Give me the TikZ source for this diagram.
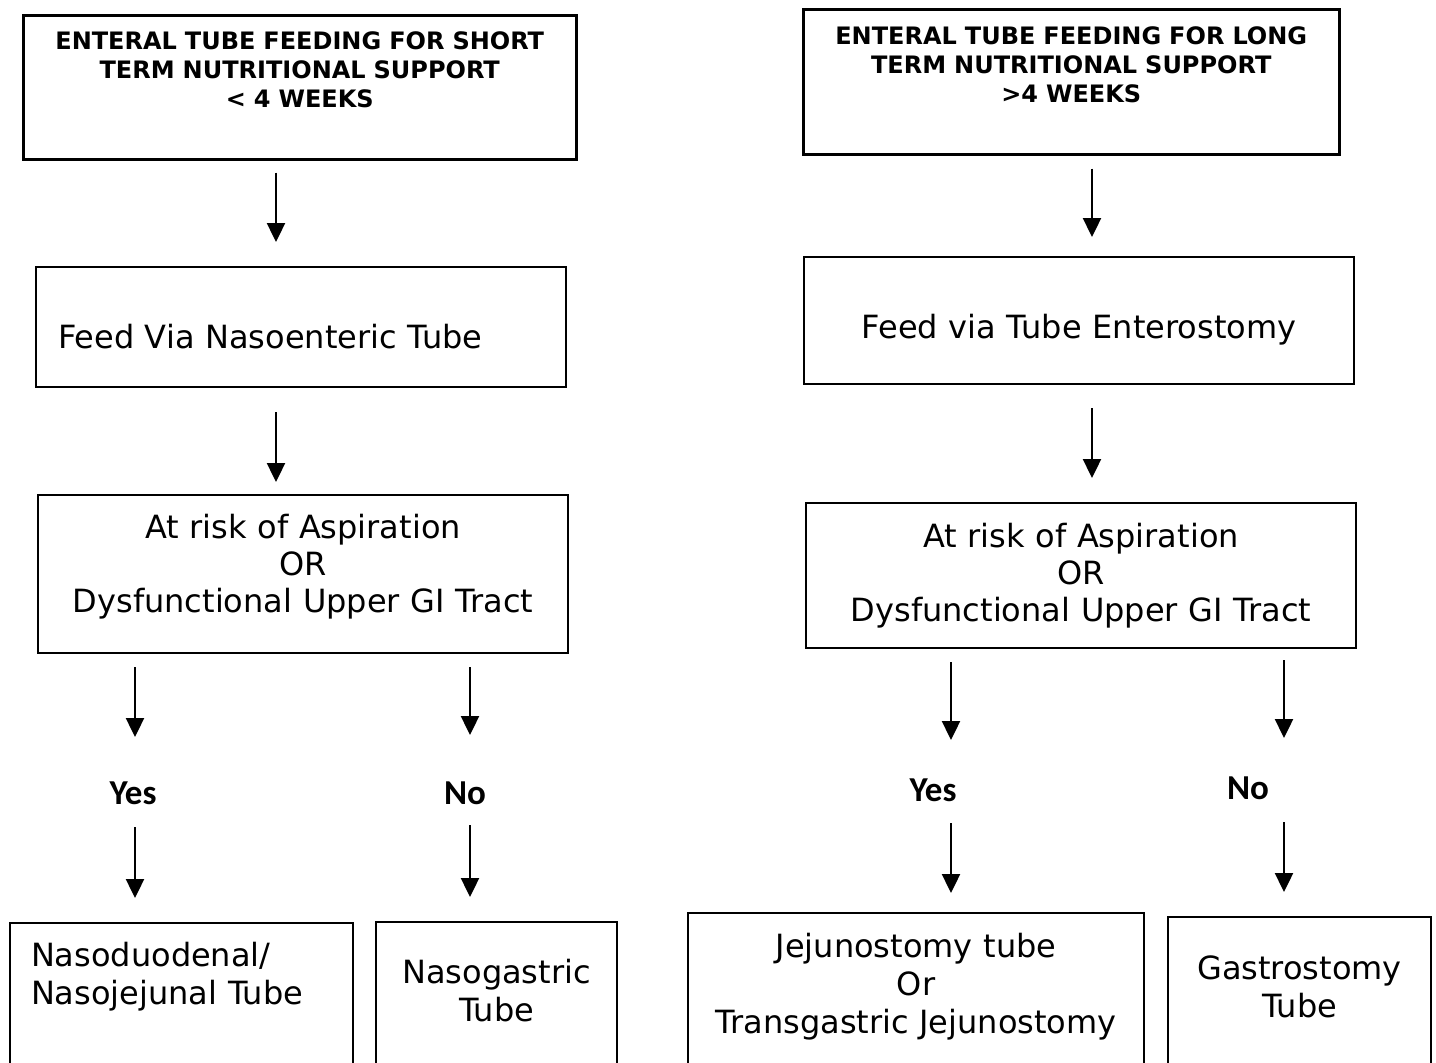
\documentclass[tikz,border=0pt]{standalone}
\usepackage{fontspec}
\setmainfont{DejaVu Sans}
\newfontfamily\calfont{Carlito}
\usetikzlibrary{arrows.meta}
\tikzset{
  >={Triangle[length=19pt,width=18pt]},
}

\begin{document}
\begin{tikzpicture}[
  x=1pt,y=-1pt,
  box/.style={draw, line width=2pt, anchor=north west, inner ysep=0pt, inner xsep=12pt, align=center, font=\fontsize{32}{38}\selectfont},
  riskbox/.style={box, font=\fontsize{32}{37}\selectfont},
  head/.style={box, line width=2.5pt, font=\fontsize{24}{29}\selectfont\bfseries},
  answer/.style={inner sep=0pt, font=\calfont\bfseries\fontsize{35}{40}\selectfont},
  arr/.style={->, line width=2.4pt}
]
\useasboundingbox (0,0) rectangle (1436,1063);
\clip (0,0) rectangle (1436,1063);

% short term side
\node[head, text width=529pt, text height=34pt, text depth=110pt] (shortHead) at (22,14) {ENTERAL TUBE FEEDING FOR SHORT\\TERM NUTRITIONAL SUPPORT\\< 4 WEEKS};
\node[box, align=left, inner xsep=22pt, text width=486pt, text height=81pt, text depth=39pt] (shortFeed) at (35,266) {Feed Via Nasoenteric Tube};
\node[riskbox, text width=506pt, text height=43pt, text depth=115pt] (shortRisk) at (37,494) {At risk of Aspiration\\OR\\Dysfunctional Upper GI Tract};
\node[answer] (shortYes) at (133,793) {Yes};
\node[answer] (shortNo) at (465,793) {No};
\node[box, align=left, inner xsep=21pt, text width=301pt, text height=43pt, text depth=110pt] (nasoJej) at (9,922) {Nasoduodenal/\\Nasojejunal Tube};
\node[box, text width=217pt, text height=61pt, text depth=93pt] (nasoGas) at (375,921) {Nasogastric\\Tube};

% long term side
\node[head, text width=512pt, text height=35pt, text depth=110pt] (longHead) at (802,8) {ENTERAL TUBE FEEDING FOR LONG\\TERM NUTRITIONAL SUPPORT\\>4 WEEKS};
\node[box, text width=526pt, text height=81pt, text depth=46pt] (longFeed) at (803,256) {Feed via Tube Enterostomy};
\node[riskbox, text width=526pt, text height=44pt, text depth=101pt] (longRisk) at (805,502) {At risk of Aspiration\\OR\\Dysfunctional Upper GI Tract};
\node[answer] (longYes) at (933,790) {Yes};
\node[answer] (longNo) at (1248,788) {No};
\node[box, text width=432pt, text height=44pt, text depth=119pt] (jejTube) at (687,912) {Jejunostomy tube\\Or\\Transgastric Jejunostomy};
\node[box, text width=239pt, text height=62pt, text depth=97pt] (gasTube) at (1167,916) {Gastrostomy\\Tube};

% arrow columns
\coordinate (shortMid) at (276,0);
\coordinate (shortY) at (135,0);
\coordinate (shortN) at (470,0);
\coordinate (longMid) at (1092,0);
\coordinate (longY) at (951,0);
\coordinate (longN) at (1284,0);

\draw[arr, shorten <=12pt, shorten >=24pt] (shortHead.south -| shortMid) -- (shortFeed.north -| shortMid);
\draw[arr, shorten <=24pt, shorten >=12pt] (shortFeed.south -| shortMid) -- (shortRisk.north -| shortMid);
\draw[arr, shorten <=13pt, shorten >=56pt] (shortRisk.south -| shortY) -- (shortY |- shortYes);
\draw[arr, shorten <=34pt, shorten >=24pt] (shortY |- shortYes) -- (nasoJej.north -| shortY);
\draw[arr, shorten <=13pt, shorten >=58pt] (shortRisk.south -| shortN) -- (shortN |- shortNo);
\draw[arr, shorten <=32pt, shorten >=24pt] (shortN |- shortNo) -- (nasoGas.north -| shortN);

\draw[arr, shorten <=13pt, shorten >=19pt] (longHead.south -| longMid) -- (longFeed.north -| longMid);
\draw[arr, shorten <=23pt, shorten >=24pt] (longFeed.south -| longMid) -- (longRisk.north -| longMid);
\draw[arr, shorten <=13pt, shorten >=50pt] (longRisk.south -| longY) -- (longY |- longYes);
\draw[arr, shorten <=33pt, shorten >=19pt] (longY |- longYes) -- (jejTube.north -| longY);
\draw[arr, shorten <=11pt, shorten >=50pt] (longRisk.south -| longN) -- (longN |- longNo);
\draw[arr, shorten <=34pt, shorten >=24pt] (longN |- longNo) -- (gasTube.north -| longN);

\end{tikzpicture}
\end{document}
